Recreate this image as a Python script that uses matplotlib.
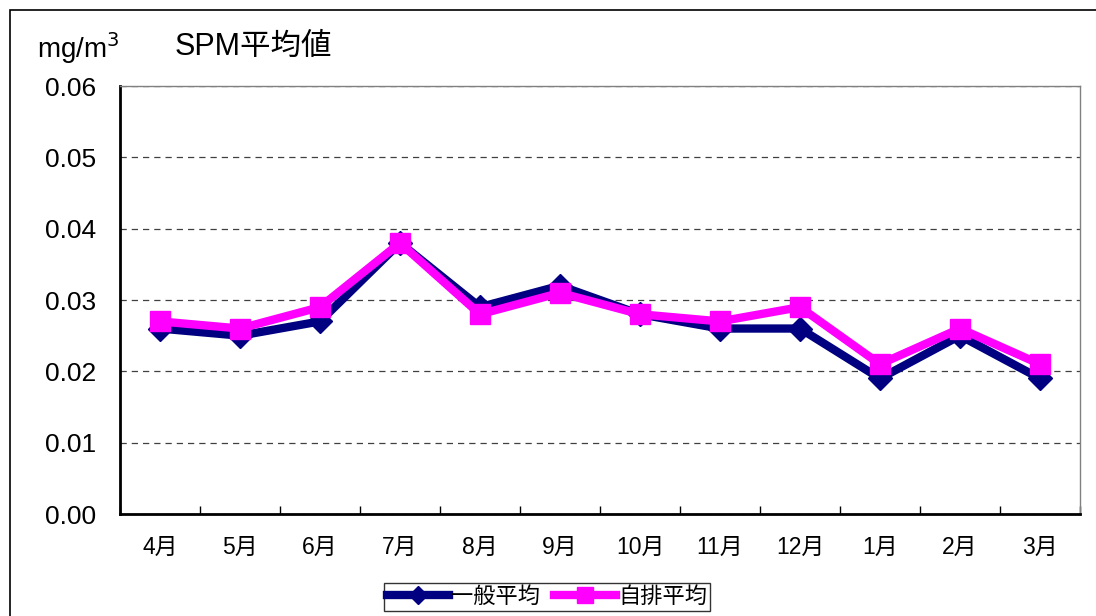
import matplotlib
matplotlib.use("Agg")
import matplotlib.pyplot as plt
from matplotlib.patches import Rectangle
from matplotlib.ticker import FixedLocator

plt.rcParams['font.family'] = ['Liberation Sans', 'Noto Sans CJK JP', 'DejaVu Sans']

months = ['4月', '5月', '6月', '7月', '8月', '9月', '10月', '11月', '12月', '1月', '2月', '3月']
general_avg = [0.026, 0.025, 0.027, 0.038, 0.029, 0.032, 0.028, 0.026, 0.026, 0.019, 0.025, 0.019]
roadside_avg = [0.027, 0.026, 0.029, 0.038, 0.028, 0.031, 0.028, 0.027, 0.029, 0.021, 0.026, 0.021]
yticks = [0.00, 0.01, 0.02, 0.03, 0.04, 0.05, 0.06]

W, H = 1096, 616
fig = plt.figure(figsize=(W / 100, H / 100), dpi=100)
fig.patches.append(Rectangle((10 / W, -0.1), 1.2, 1 - 10 / H + 0.1, transform=fig.transFigure,
                             fill=False, edgecolor='black', linewidth=1.2))

ax = fig.add_axes([120 / W, 1 - 514 / H, (1080 - 120) / W, (514 - 86) / H])
x = list(range(len(months)))
ax.plot(x, general_avg, color='#000080', linewidth=6, marker='D', markersize=12,
        label='一般平均', zorder=3)
ax.plot(x, roadside_avg, color='#FF00FF', linewidth=6, marker='s', markersize=14,
        label='自排平均', zorder=4)

ax.set_xlim(-0.5, len(months) - 0.5)
ax.set_ylim(0, 0.06)
ax.set_yticks(yticks)
ax.set_yticklabels([f'{v:.2f}' for v in yticks], fontsize=19)
ax.set_xticks(x)
ax.set_xticklabels(months, fontsize=16.5)
ax.tick_params(axis='x', which='major', length=0, pad=16)
ax.xaxis.set_minor_locator(FixedLocator([i - 0.5 for i in range(len(months) + 1)]))
ax.tick_params(axis='x', which='minor', length=6, direction='in', width=1)
ax.tick_params(axis='y', which='major', length=0, pad=17)
ax.grid(axis='y', linestyle=(0, (5, 4)), color='#404040', linewidth=0.9)
ax.set_axisbelow(True)
for s in ['top', 'right']:
    ax.spines[s].set_color('#808080')
    ax.spines[s].set_linewidth(1)
ax.spines['left'].set_linewidth(2)
ax.spines['bottom'].set_linewidth(2)

fig.text(37 / W, 1 - 48 / H, 'mg/m$^3$', fontsize=20, va='center', ha='left')
fig.text(175 / W, 1 - 47 / H, 'SPM平均値', fontsize=22, va='center', ha='left')

leg = fig.legend(loc='center', bbox_to_anchor=(547 / W, 1 - 597 / H), ncol=2, fontsize=16,
                 frameon=True, fancybox=False, edgecolor='black', handlelength=2.8,
                 handletextpad=0.1, columnspacing=0.6, borderpad=0.15, borderaxespad=0,
                 markerscale=0.8)
leg.get_frame().set_linewidth(1)

fig.savefig('out.png', dpi=100)
